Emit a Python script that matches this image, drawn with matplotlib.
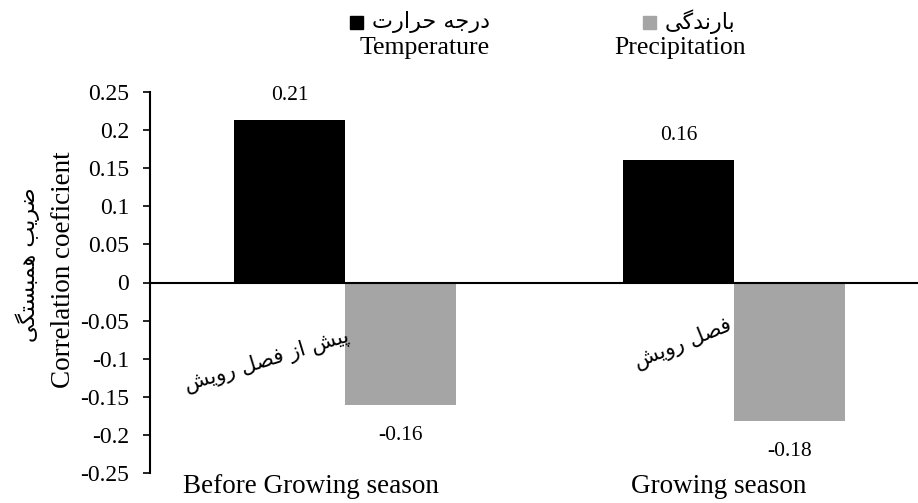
import matplotlib.pyplot as plt
import matplotlib.patches as mpatches
import numpy as np

# Data
categories = ["Before Growing season", "Growing season"]
temperature = [0.213, 0.161]
precipitation = [-0.161, -0.182]
temp_labels = ["0.21", "0.16"]
prec_labels = ["-0.16", "-0.18"]
fa_categories = ["پیش از فصل رویش", "فصل رویش"]
fa_temp = "درجه حرارت"
fa_prec = "بارندگی"
fa_ylabel = "ضریب همبستگی"
yticks = [-0.25, -0.2, -0.15, -0.1, -0.05, 0, 0.05, 0.1, 0.15, 0.2, 0.25]

# presentation forms: isolated, final, initial, medial (None -> right joining only)
FORMS = {
    "ا": ("\uFE8D", "\uFE8E", None, None),
    "ب": ("\uFE8F", "\uFE90", "\uFE91", "\uFE92"),
    "پ": ("\uFB56", "\uFB57", "\uFB58", "\uFB59"),
    "ت": ("\uFE95", "\uFE96", "\uFE97", "\uFE98"),
    "ج": ("\uFE9D", "\uFE9E", "\uFE9F", "\uFEA0"),
    "ح": ("\uFEA1", "\uFEA2", "\uFEA3", "\uFEA4"),
    "د": ("\uFEA9", "\uFEAA", None, None),
    "ر": ("\uFEAD", "\uFEAE", None, None),
    "ز": ("\uFEAF", "\uFEB0", None, None),
    "س": ("\uFEB1", "\uFEB2", "\uFEB3", "\uFEB4"),
    "ش": ("\uFEB5", "\uFEB6", "\uFEB7", "\uFEB8"),
    "ص": ("\uFEB9", "\uFEBA", "\uFEBB", "\uFEBC"),
    "ض": ("\uFEBD", "\uFEBE", "\uFEBF", "\uFEC0"),
    "ف": ("\uFED1", "\uFED2", "\uFED3", "\uFED4"),
    "ل": ("\uFEDD", "\uFEDE", "\uFEDF", "\uFEE0"),
    "م": ("\uFEE1", "\uFEE2", "\uFEE3", "\uFEE4"),
    "ن": ("\uFEE5", "\uFEE6", "\uFEE7", "\uFEE8"),
    "ه": ("\uFEE9", "\uFEEA", "\uFEEB", "\uFEEC"),
    "و": ("\uFEED", "\uFEEE", None, None),
    "ی": ("\uFBFC", "\uFBFD", "\uFBFE", "\uFBFF"),
    "گ": ("\uFB92", "\uFB93", "\uFB94", "\uFB95"),
}


def shape_fa(s):
    # join letters and put them in visual (left to right) order
    out = []
    for i, ch in enumerate(s):
        if ch not in FORMS:
            out.append(ch)
            continue
        prev = s[i - 1] if i > 0 else None
        nxt = s[i + 1] if i + 1 < len(s) else None
        dual = FORMS[ch][2] is not None
        j_prev = prev in FORMS and FORMS[prev][2] is not None
        j_next = dual and nxt in FORMS
        if j_prev and j_next:
            out.append(FORMS[ch][3])
        elif j_prev:
            out.append(FORMS[ch][1])
        elif j_next:
            out.append(FORMS[ch][2])
        else:
            out.append(FORMS[ch][0])
    return "".join(out[::-1])


plt.rcParams['font.family'] = ['Liberation Serif', 'DejaVu Sans']
fa_font = ['DejaVu Sans']
tick_fs = 17
lab_fs = 15.5
cat_fs = 19.5
leg_fs = 18.5
fa_fs = 15

fig = plt.figure(figsize=(9.18, 5.03), dpi=100)
ax = fig.add_axes([150 / 918, 1 - 473 / 503, 1 - 150 / 918, (473 - 92) / 503])

x = np.arange(len(categories))
w = 0.285
b1 = ax.bar(x - w / 2, temperature, w, color='black')
b2 = ax.bar(x + w / 2, precipitation, w, color='#A5A5A5')

for rect, lab in zip(b1, temp_labels):
    ax.annotate(lab, (rect.get_x() + rect.get_width() / 2, rect.get_height()),
                xytext=(0, 11), textcoords='offset points', ha='center', va='bottom', fontsize=lab_fs)
for rect, lab in zip(b2, prec_labels):
    ax.annotate(lab, (rect.get_x() + rect.get_width() / 2, rect.get_height()),
                xytext=(0, -15), textcoords='offset points', ha='center', va='top', fontsize=lab_fs)

ax.set_ylim(-0.25, 0.25)
ax.set_xlim(-0.501, 1.473)
ax.set_yticks(yticks)
ax.set_yticklabels([("%g" % t) for t in yticks], fontsize=tick_fs)
ax.axhline(0, color='black', lw=1.5)
for s in ['top', 'right', 'bottom']:
    ax.spines[s].set_visible(False)
ax.spines['left'].set_linewidth(1.5)
ax.tick_params(axis='y', direction='out', length=5, width=1.2, pad=10)
# category labels sit a little left of the bar pairs in the original
ax.set_xticks(x + np.array([-0.087, -0.039]))
ax.set_xticklabels(categories, fontsize=cat_fs)
ax.tick_params(axis='x', length=0, pad=1)

# rotated persian category names inside the plot
ax.text(-0.2, -0.103, shape_fa(fa_categories[0]), rotation=17, ha='center', va='center',
        fontsize=fa_fs, family=fa_font)
ax.text(0.87, -0.08, shape_fa(fa_categories[1]), rotation=22, ha='center', va='center',
        fontsize=fa_fs, family=fa_font)

# axis titles
fig.text(64 / 918, 1 - 270 / 503, "Correlation coeficient", rotation=90, ha='center', va='center',
         fontsize=cat_fs)
fig.text(28 / 918, 1 - 265 / 503, shape_fa(fa_ylabel), rotation=90, ha='center', va='center',
         fontsize=16, family=fa_font)

# legend
fig.patches.append(mpatches.Rectangle((350 / 918, 1 - 29 / 503), 13 / 918, 13 / 503,
                                      transform=fig.transFigure, color='black'))
fig.text(372 / 918, 1 - 22 / 503, shape_fa(fa_temp), ha='left', va='center', fontsize=16, family=fa_font)
fig.text(425 / 918, 1 - 48 / 503, "Temperature", ha='center', va='center', fontsize=leg_fs)
fig.patches.append(mpatches.Rectangle((643 / 918, 1 - 29 / 503), 13 / 918, 13 / 503,
                                      transform=fig.transFigure, color='#A5A5A5'))
fig.text(665 / 918, 1 - 22 / 503, shape_fa(fa_prec), ha='left', va='center', fontsize=16, family=fa_font)
fig.text(680 / 918, 1 - 48 / 503, "Precipitation", ha='center', va='center', fontsize=leg_fs)

fig.savefig('out.png', dpi=100)
